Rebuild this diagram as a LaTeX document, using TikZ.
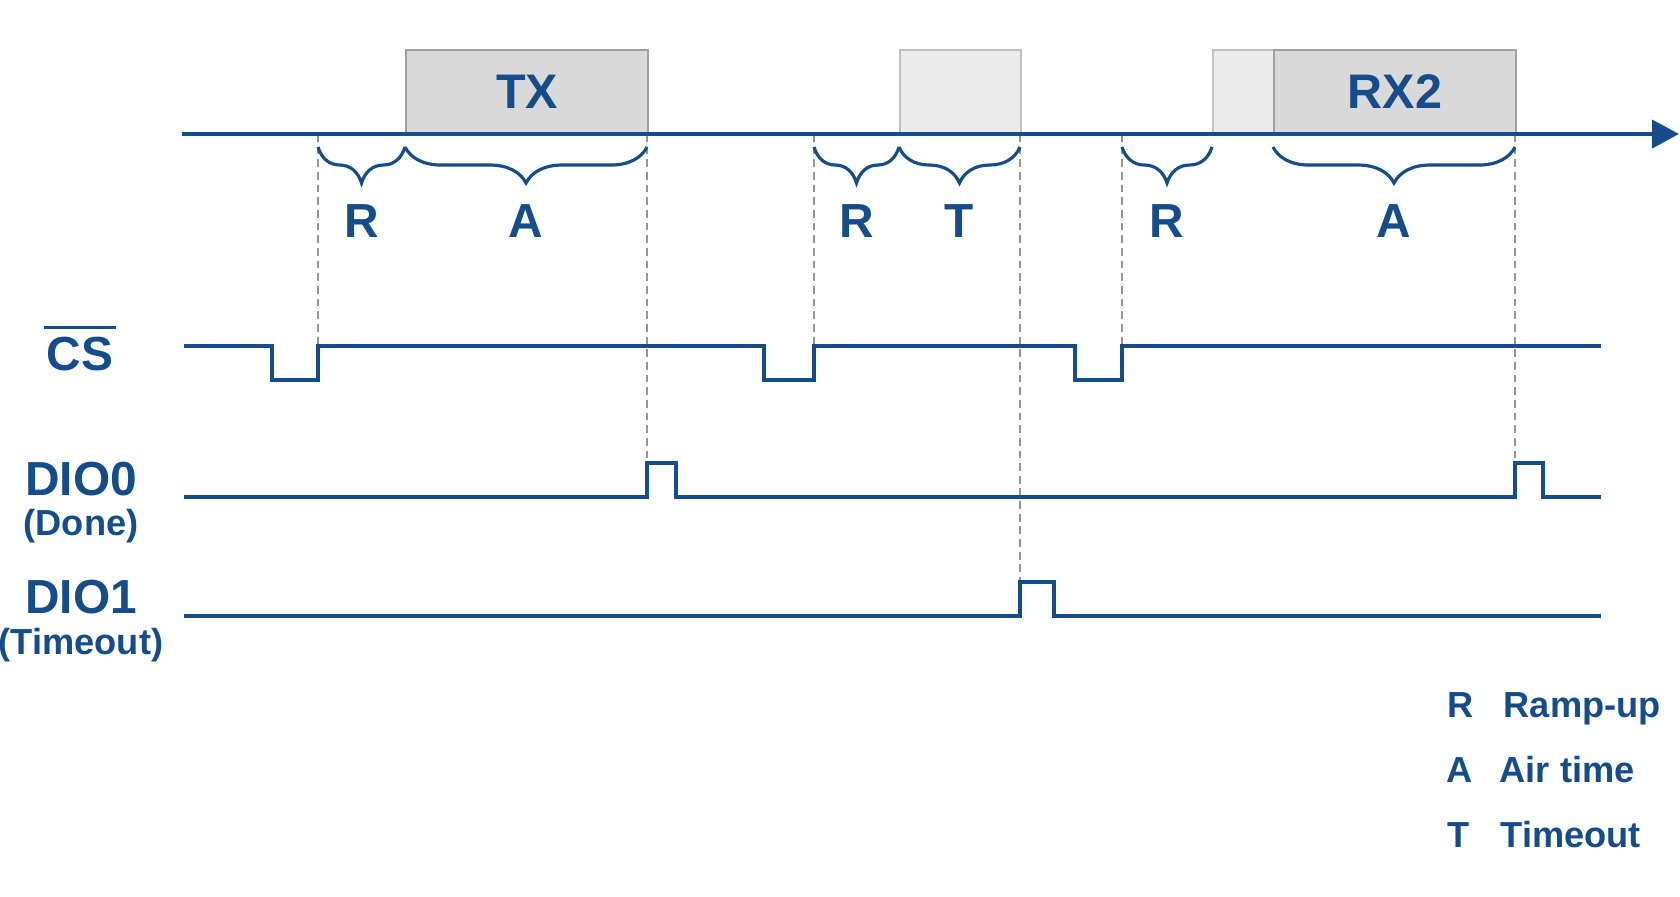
\documentclass[tikz,border=0pt]{standalone}
\usepackage{fontspec}
\setmainfont{Liberation Sans}
\usepackage{xcolor}
\usepackage{tikz}
\usetikzlibrary{arrows.meta, positioning, decorations.pathreplacing, calc}
\definecolor{sigblue}{RGB}{20, 76, 140}
\definecolor{boxgray}{RGB}{217, 217, 217}
\definecolor{boxedge}{RGB}{160, 160, 160}
\definecolor{palegray}{RGB}{235, 235, 235}
\definecolor{paleedge}{RGB}{192, 192, 192}
\definecolor{guidegray}{RGB}{150, 150, 150}
\newcommand{\barred}[1]{\vbox{\hrule height 0.9pt\kern 2.2pt\hbox{\kern0.8pt #1\kern0.8pt}}}

\begin{document}
\begin{tikzpicture}[x=0.01cm, y=-0.01cm,
    biglbl/.style={text=sigblue, font=\fontsize{13.6}{16}\selectfont\bfseries,
                   inner sep=0pt, anchor=base},
    smalllbl/.style={text=sigblue, font=\fontsize{10.3}{12}\selectfont\bfseries,
                     inner sep=0pt, anchor=base},
    slot/.style={draw=boxedge, fill=boxgray, line width=0.6pt, minimum height=0.83cm,
                 inner sep=0pt, anchor=south west, text=sigblue,
                 font=\fontsize{13.8}{16}\selectfont\bfseries},
    paleslot/.style={slot, draw=paleedge, fill=palegray},
    timeaxis/.style={sigblue, line width=1.15pt, -{Triangle[length=0.27cm, width=0.28cm]}},
    wave/.style={sigblue, line width=1pt, line join=miter},
    guide/.style={guidegray, line width=0.6pt, dash pattern=on 2.2pt off 1.4pt},
    brc/.style={sigblue, line width=0.9pt, decorate,
                decoration={brace, mirror, amplitude=0.36cm}},
    brclbl/.style={biglbl, midway, yshift=-0.9cm}
]
    \useasboundingbox (0,0) rectangle (1680,896);

    % Time marks on the axis
    \coordinate (t0) at (318,134);
    \coordinate (t1) at (405,134);
    \coordinate (t2) at (647,134);
    \coordinate (t3) at (814,134);
    \coordinate (t4) at (899,134);
    \coordinate (t5) at (1020,134);
    \coordinate (t6) at (1122,134);
    \coordinate (t7) at (1212,134);
    \coordinate (t8) at (1273,134);
    \coordinate (t9) at (1515,134);
    \coordinate (brc) at (0,147);
    \coordinate (cshi) at (0,346);
    \coordinate (dzhi) at (0,463);
    \coordinate (dohi) at (0,582);

    % Guides
    \draw[guide] (t0) -- (t0 |- cshi);
    \draw[guide] (t2) -- (t2 |- dzhi);
    \draw[guide] (t3) -- (t3 |- cshi);
    \draw[guide] (t5) -- (t5 |- dohi);
    \draw[guide] (t6) -- (t6 |- cshi);
    \draw[guide] (t9) -- (t9 |- dzhi);

    % Radio slots
    \node[slot, minimum width=2.42cm] (tx) at (t1) {TX};
    \node[paleslot, minimum width=1.21cm] (tmo) at (t4) {};
    \node[paleslot, minimum width=0.61cm] (rxramp) at (t7) {};
    \node[slot, minimum width=2.42cm] (rx2) at (t8) {RX2};

    % Time axis
    \draw[timeaxis] (182,134) -- (1679,134);

    % Braces
    \draw[brc] (t0 |- brc) -- (t1 |- brc) node[brclbl] (r1) {R};
    \draw[brc] (t1 |- brc) -- (t2 |- brc) node[brclbl] (a1) {A};
    \draw[brc] (t3 |- brc) -- (t4 |- brc) node[brclbl] (r2) {R};
    \draw[brc] (t4 |- brc) -- (t5 |- brc) node[brclbl] (to1) {T};
    \draw[brc] (t6 |- brc) -- (t7 |- brc) node[brclbl] (r3) {R};
    \draw[brc] (t8 |- brc) -- (t9 |- brc) node[brclbl] (a2) {A};

    % Signals
    \draw[wave] (184,346) -| (272,380) -| (318,346) -| (764,380) -| (814,346)
        -| (1075,380) -| (1122,346) -- (1601,346);
    \draw[wave] (184,497) -| (647,463) -| (676,497) -| (1515,463) -| (1543,497)
        -- (1601,497);
    \draw[wave] (184,616) -| (1020,582) -| (1054,616) -- (1601,616);

    % Signal names
    \node[biglbl] (cs) at (80,370) {\barred{CS}};
    \node[biglbl] (dio0) at (81,495) {DIO0};
    \node[smalllbl] (done) at (81,535) {(Done)};
    \node[biglbl] (dio1) at (81,613) {DIO1};
    \node[smalllbl] (tmolbl) at (81,654) {(Timeout)};

    % Key
    \node[smalllbl, anchor=base west] (keyr) at (1447,717) {R};
    \node[smalllbl, anchor=base west] (keyrtxt) at (1503,717) {Ramp-up};
    \node[smalllbl, anchor=base west] (keya) at (1446,782) {A};
    \node[smalllbl, anchor=base west] (keyatxt) at (1499,782) {Air time};
    \node[smalllbl, anchor=base west] (keyt) at (1447,847) {T};
    \node[smalllbl, anchor=base west] (keyttxt) at (1500,847) {Timeout};
\end{tikzpicture}
\end{document}
